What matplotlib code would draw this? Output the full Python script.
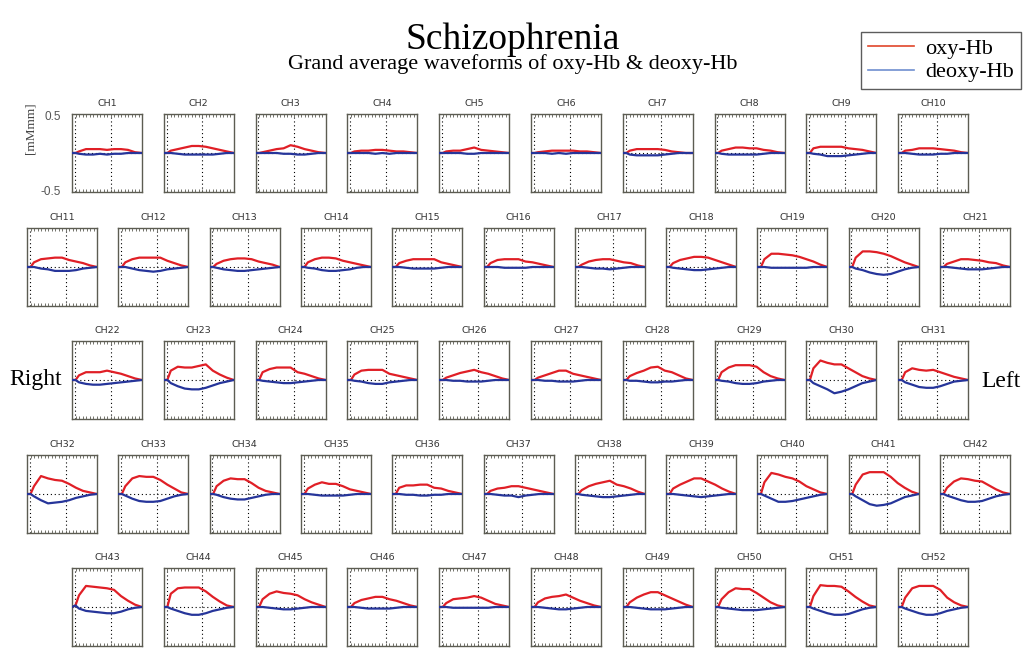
import matplotlib
matplotlib.use("Agg")
import matplotlib.pyplot as plt
from matplotlib.lines import Line2D

# sample times (s); task block runs between the two dotted markers
TIME = [0, 5, 10, 20, 30, 40, 50, 60, 70, 80, 90, 100]
TASK_ON = 4
TASK_OFF = 55

ROW_SIZES = [10, 11, 10, 11, 10]

# oxy-Hb / deoxy-Hb grand averages [mM·mm], one list per channel, grouped by probe row
oxy_row1 = [
    [0, 0, 0.02, 0.05, 0.05, 0.05, 0.04, 0.05, 0.05, 0.04, 0.01, 0],
    [0, 0, 0.03, 0.05, 0.07, 0.09, 0.09, 0.08, 0.06, 0.04, 0.02, 0],
    [0, 0, 0.01, 0.03, 0.05, 0.06, 0.10, 0.08, 0.05, 0.03, 0.01, 0],
    [0, 0, 0.02, 0.03, 0.03, 0.04, 0.04, 0.03, 0.02, 0.02, 0.01, 0],
    [0, 0, 0.02, 0.03, 0.03, 0.05, 0.07, 0.04, 0.03, 0.02, 0.01, 0],
    [0, 0, 0.01, 0.02, 0.03, 0.03, 0.03, 0.03, 0.02, 0.02, 0.01, 0],
    [0, 0, 0.03, 0.05, 0.05, 0.05, 0.05, 0.04, 0.02, 0.01, 0.00, 0],
    [0, 0, 0.03, 0.05, 0.07, 0.07, 0.06, 0.06, 0.04, 0.03, 0.01, 0],
    [0, 0, 0.06, 0.08, 0.08, 0.08, 0.08, 0.06, 0.05, 0.04, 0.02, 0],
    [0, 0, 0.03, 0.04, 0.06, 0.06, 0.06, 0.05, 0.04, 0.03, 0.01, 0],
]
deoxy_row1 = [
    [0, 0, -0.01, -0.02, -0.02, -0.01, -0.02, -0.01, -0.01, 0, 0, 0],
    [0, 0, 0.00, -0.01, -0.02, -0.02, -0.02, -0.02, -0.02, -0.01, 0, 0],
    [0, 0, 0.00, 0.00, 0.00, -0.01, -0.01, -0.02, -0.02, -0.01, 0, 0],
    [0, 0, 0.00, 0.00, 0.00, -0.01, 0.00, -0.01, 0.00, 0, 0, 0],
    [0, 0, 0.00, 0.00, 0.00, -0.01, -0.01, 0.00, 0.00, 0, 0, 0],
    [0, 0, 0.00, 0.00, -0.01, 0.00, -0.01, 0.00, 0.00, 0, 0, 0],
    [0, 0, -0.02, -0.03, -0.03, -0.03, -0.03, -0.02, -0.01, 0, 0, 0],
    [0, 0, -0.01, -0.02, -0.02, -0.02, -0.02, -0.02, -0.01, 0, 0, 0],
    [0, 0, -0.01, -0.02, -0.04, -0.04, -0.04, -0.03, -0.02, -0.01, 0, 0],
    [0, 0, 0.00, -0.01, -0.02, -0.02, -0.02, -0.01, -0.01, 0, 0, 0],
]

oxy_row2 = [
    [0, 0, 0.06, 0.10, 0.11, 0.12, 0.12, 0.09, 0.07, 0.05, 0.02, 0],
    [0, 0, 0.06, 0.10, 0.12, 0.12, 0.12, 0.12, 0.08, 0.05, 0.02, 0],
    [0, 0, 0.04, 0.08, 0.10, 0.11, 0.11, 0.10, 0.07, 0.05, 0.03, 0],
    [0, 0, 0.06, 0.10, 0.12, 0.12, 0.11, 0.08, 0.06, 0.04, 0.02, 0],
    [0, 0, 0.05, 0.08, 0.10, 0.10, 0.10, 0.10, 0.06, 0.04, 0.02, 0],
    [0, 0, 0.05, 0.09, 0.10, 0.10, 0.10, 0.07, 0.06, 0.04, 0.02, 0],
    [0, 0, 0.03, 0.07, 0.09, 0.10, 0.10, 0.08, 0.06, 0.05, 0.02, 0],
    [0, 0, 0.05, 0.09, 0.11, 0.13, 0.13, 0.12, 0.09, 0.06, 0.03, 0],
    [0, 0, 0.10, 0.17, 0.17, 0.16, 0.15, 0.13, 0.10, 0.07, 0.03, 0],
    [0, 0, 0.12, 0.20, 0.20, 0.19, 0.17, 0.14, 0.10, 0.06, 0.03, 0],
    [0, 0, 0.04, 0.07, 0.10, 0.10, 0.09, 0.08, 0.06, 0.05, 0.02, 0],
]
deoxy_row2 = [
    [0, 0, 0.00, -0.02, -0.03, -0.05, -0.05, -0.05, -0.04, -0.02, -0.01, 0],
    [0, 0, 0.00, -0.02, -0.04, -0.05, -0.06, -0.05, -0.03, -0.02, -0.01, 0],
    [0, 0, -0.01, -0.03, -0.04, -0.05, -0.05, -0.04, -0.03, -0.02, -0.01, 0],
    [0, 0, -0.01, -0.02, -0.04, -0.05, -0.05, -0.04, -0.03, -0.01, 0, 0],
    [0, 0, 0.00, -0.01, -0.02, -0.02, -0.02, -0.02, -0.01, 0, 0, 0],
    [0, 0, 0.00, 0.00, -0.01, -0.01, -0.01, -0.01, 0.00, 0, 0, 0],
    [0, 0, 0.00, -0.01, -0.02, -0.02, -0.03, -0.02, -0.01, 0, 0, 0],
    [0, 0, -0.01, -0.02, -0.03, -0.04, -0.04, -0.03, -0.02, -0.01, 0, 0],
    [0, 0, 0.00, -0.01, -0.01, -0.01, -0.01, -0.01, -0.01, 0, 0, 0],
    [0, 0, -0.02, -0.04, -0.07, -0.09, -0.10, -0.09, -0.06, -0.03, -0.01, 0],
    [0, 0, 0.00, -0.01, -0.02, -0.03, -0.03, -0.03, -0.02, -0.01, 0, 0],
]

oxy_row3 = [
    [0, 0, 0.06, 0.10, 0.10, 0.10, 0.12, 0.10, 0.08, 0.05, 0.02, 0],
    [0, 0, 0.12, 0.17, 0.16, 0.16, 0.18, 0.20, 0.12, 0.07, 0.03, 0],
    [0, 0, 0.10, 0.14, 0.16, 0.16, 0.16, 0.10, 0.08, 0.05, 0.02, 0],
    [0, 0, 0.07, 0.12, 0.13, 0.13, 0.13, 0.08, 0.06, 0.04, 0.02, 0],
    [0, 0, 0.03, 0.06, 0.09, 0.11, 0.13, 0.10, 0.08, 0.05, 0.02, 0],
    [0, 0, 0.03, 0.06, 0.09, 0.12, 0.12, 0.08, 0.06, 0.04, 0.02, 0],
    [0, 0, 0.05, 0.09, 0.12, 0.16, 0.17, 0.12, 0.10, 0.06, 0.02, 0],
    [0, 0, 0.10, 0.16, 0.19, 0.19, 0.19, 0.17, 0.10, 0.05, 0.02, 0],
    [0, 0, 0.15, 0.25, 0.22, 0.20, 0.20, 0.15, 0.10, 0.05, 0.02, 0],
    [0, 0, 0.10, 0.15, 0.13, 0.12, 0.13, 0.10, 0.07, 0.04, 0.02, 0],
]
deoxy_row3 = [
    [0, 0, -0.03, -0.05, -0.06, -0.06, -0.05, -0.04, -0.03, -0.02, -0.01, 0],
    [0, 0, -0.04, -0.08, -0.11, -0.12, -0.12, -0.10, -0.07, -0.04, -0.02, 0],
    [0, 0, -0.01, -0.02, -0.03, -0.04, -0.04, -0.03, -0.02, -0.01, 0, 0],
    [0, 0, -0.01, -0.02, -0.04, -0.05, -0.05, -0.03, -0.02, -0.01, 0, 0],
    [0, 0, 0.00, -0.01, -0.01, -0.02, -0.02, -0.02, -0.01, 0, 0, 0],
    [0, 0, 0.00, -0.01, -0.01, -0.02, -0.02, -0.02, -0.01, 0, 0, 0],
    [0, 0, -0.01, -0.01, -0.02, -0.03, -0.03, -0.02, -0.02, -0.01, 0, 0],
    [0, 0, -0.01, -0.02, -0.04, -0.05, -0.05, -0.04, -0.02, -0.01, 0, 0],
    [0, 0, -0.04, -0.08, -0.12, -0.17, -0.15, -0.12, -0.08, -0.04, -0.02, 0],
    [0, 0, -0.03, -0.06, -0.09, -0.10, -0.10, -0.08, -0.05, -0.02, -0.01, 0],
]

oxy_row4 = [
    [0, 0, 0.10, 0.23, 0.20, 0.18, 0.17, 0.13, 0.08, 0.04, 0.02, 0],
    [0, 0, 0.10, 0.20, 0.23, 0.22, 0.22, 0.18, 0.12, 0.07, 0.02, 0],
    [0, 0, 0.10, 0.17, 0.20, 0.19, 0.19, 0.14, 0.08, 0.04, 0.02, 0],
    [0, 0, 0.07, 0.12, 0.15, 0.13, 0.13, 0.10, 0.06, 0.04, 0.02, 0],
    [0, 0, 0.08, 0.11, 0.11, 0.12, 0.12, 0.08, 0.07, 0.04, 0.02, 0],
    [0, 0, 0.04, 0.07, 0.08, 0.10, 0.10, 0.08, 0.06, 0.04, 0.02, 0],
    [0, 0, 0.05, 0.10, 0.13, 0.15, 0.17, 0.12, 0.10, 0.07, 0.03, 0],
    [0, 0, 0.07, 0.12, 0.16, 0.20, 0.20, 0.16, 0.12, 0.07, 0.03, 0],
    [0, 0, 0.15, 0.27, 0.25, 0.22, 0.20, 0.16, 0.10, 0.06, 0.02, 0],
    [0, 0, 0.12, 0.25, 0.28, 0.28, 0.28, 0.22, 0.14, 0.08, 0.03, 0],
    [0, 0, 0.08, 0.16, 0.20, 0.19, 0.17, 0.16, 0.11, 0.06, 0.02, 0],
]
deoxy_row4 = [
    [0, 0, -0.03, -0.08, -0.12, -0.11, -0.10, -0.08, -0.05, -0.03, -0.01, 0],
    [0, 0, -0.02, -0.06, -0.09, -0.10, -0.10, -0.09, -0.06, -0.03, -0.01, 0],
    [0, 0, -0.01, -0.04, -0.06, -0.07, -0.07, -0.05, -0.03, -0.01, 0, 0],
    [0, 0, 0.00, -0.01, -0.02, -0.02, -0.02, -0.02, -0.01, 0, 0, 0],
    [0, 0, 0.00, -0.01, -0.01, -0.02, -0.02, -0.01, -0.01, 0, 0, 0],
    [0, 0, 0.00, -0.01, -0.02, -0.02, -0.04, -0.02, -0.01, 0, 0, 0],
    [0, 0, -0.01, -0.02, -0.03, -0.04, -0.04, -0.03, -0.02, -0.01, 0, 0],
    [0, 0, 0.00, -0.01, -0.02, -0.03, -0.04, -0.03, -0.02, -0.01, 0, 0],
    [0, 0, -0.02, -0.06, -0.10, -0.10, -0.09, -0.07, -0.05, -0.03, -0.01, 0],
    [0, 0, -0.03, -0.08, -0.13, -0.15, -0.14, -0.12, -0.08, -0.04, -0.02, 0],
    [0, 0, -0.02, -0.05, -0.08, -0.10, -0.10, -0.09, -0.06, -0.03, -0.01, 0],
]

oxy_row5 = [
    [0, 0.02, 0.15, 0.27, 0.26, 0.25, 0.24, 0.22, 0.14, 0.08, 0.03, 0],
    [0, 0, 0.17, 0.24, 0.25, 0.25, 0.25, 0.20, 0.13, 0.07, 0.02, 0],
    [0, 0, 0.10, 0.17, 0.20, 0.18, 0.17, 0.15, 0.10, 0.06, 0.03, 0],
    [0, 0, 0.05, 0.09, 0.11, 0.13, 0.13, 0.10, 0.08, 0.05, 0.02, 0],
    [0, 0, 0.05, 0.10, 0.11, 0.12, 0.14, 0.12, 0.08, 0.04, 0.02, 0],
    [0, 0, 0.06, 0.11, 0.13, 0.14, 0.16, 0.12, 0.08, 0.05, 0.02, 0],
    [0, 0, 0.06, 0.12, 0.16, 0.19, 0.19, 0.15, 0.11, 0.07, 0.03, 0],
    [0, 0, 0.10, 0.19, 0.24, 0.23, 0.23, 0.18, 0.12, 0.06, 0.02, 0],
    [0, 0, 0.14, 0.28, 0.27, 0.27, 0.26, 0.20, 0.13, 0.07, 0.02, 0],
    [0, 0, 0.12, 0.24, 0.27, 0.27, 0.27, 0.22, 0.12, 0.06, 0.02, 0],
]
deoxy_row5 = [
    [0, 0.02, -0.02, -0.05, -0.06, -0.07, -0.08, -0.08, -0.06, -0.03, -0.01, 0],
    [0, 0, -0.02, -0.05, -0.08, -0.10, -0.10, -0.08, -0.05, -0.03, -0.01, 0],
    [0, 0, 0.00, -0.01, -0.02, -0.03, -0.03, -0.02, -0.01, 0, 0, 0],
    [0, 0, 0.00, -0.01, -0.02, -0.02, -0.02, -0.02, -0.01, 0, 0, 0],
    [0, 0, 0.00, -0.01, -0.01, -0.01, -0.01, -0.01, -0.01, 0, 0, 0],
    [0, 0, 0.00, -0.01, -0.02, -0.03, -0.03, -0.02, -0.01, 0, 0, 0],
    [0, 0, 0.00, -0.01, -0.02, -0.03, -0.03, -0.03, -0.02, -0.01, 0, 0],
    [0, 0, -0.01, -0.02, -0.03, -0.04, -0.04, -0.04, -0.03, -0.02, -0.01, 0],
    [0, 0, -0.02, -0.05, -0.08, -0.10, -0.10, -0.09, -0.06, -0.03, -0.01, 0],
    [0, 0, -0.02, -0.05, -0.08, -0.10, -0.10, -0.08, -0.05, -0.03, -0.01, 0],
]

OXY_ROWS = [oxy_row1, oxy_row2, oxy_row3, oxy_row4, oxy_row5]
DEOXY_ROWS = [deoxy_row1, deoxy_row2, deoxy_row3, deoxy_row4, deoxy_row5]

OXY_COLOR = "#e01f26"
DEOXY_COLOR = "#26359a"
FRAME_COLOR = "#5c5c52"

# panel grid in pixels
W, H = 1026, 649
ROW_TOPS = [114, 228, 341, 455, 568]
PANEL_W, PANEL_H = 70, 78
LEFT_SHORT, STEP_SHORT = 72, 91.8   # rows with 10 channels
LEFT_LONG, STEP_LONG = 27, 91.3     # rows with 11 channels

plt.rcParams["font.family"] = ["Liberation Serif", "DejaVu Serif"]

fig = plt.figure(figsize=(W / 100, H / 100), dpi=100)
fig.patch.set_facecolor("white")


def draw_panel(ax, label, oxy, deoxy):
    ax.axvline(TASK_ON, color="black", lw=0.8, ls=(0, (1, 2.5)), zorder=1)
    ax.axvline(TASK_OFF, color="black", lw=0.8, ls=(0, (1, 2.5)), zorder=1)
    ax.axhline(0, color="black", lw=0.8, ls=(0, (1, 2.5)), zorder=1)
    ax.plot(TIME, oxy, color=OXY_COLOR, lw=1.6, zorder=2)
    ax.plot(TIME, deoxy, color=DEOXY_COLOR, lw=1.6, zorder=3)
    ax.set_xlim(0, 100)
    ax.set_ylim(-0.5, 0.5)
    ax.set_xticks(range(0, 101, 5))
    ax.set_yticks([])
    ax.tick_params(axis="x", direction="in", top=True, bottom=True, length=2,
                   width=0.6, color=FRAME_COLOR, labelbottom=False)
    for sp in ax.spines.values():
        sp.set_color(FRAME_COLOR)
        sp.set_linewidth(1.0)
    ax.set_title(label, fontsize=6.8, family="DejaVu Sans", color="#333333", pad=6)


ch = 1
for r, n in enumerate(ROW_SIZES):
    left0, step = (LEFT_SHORT, STEP_SHORT) if n == 10 else (LEFT_LONG, STEP_LONG)
    top = ROW_TOPS[r]
    for i in range(n):
        x0 = left0 + i * step
        ax = fig.add_axes([x0 / W, 1 - (top + PANEL_H) / H, PANEL_W / W, PANEL_H / H])
        draw_panel(ax, f"CH{ch}", OXY_ROWS[r][i], DEOXY_ROWS[r][i])
        ch += 1

# scale labels next to the first panel
fig.text(61 / W, 1 - 117 / H, "0.5", ha="right", va="center", fontsize=8.5,
         family="Liberation Sans", color="#555555")
fig.text(61 / W, 1 - 192 / H, "-0.5", ha="right", va="center", fontsize=8.5,
         family="Liberation Sans", color="#555555")
fig.text(31 / W, 1 - 128 / H, "[mMmm]", rotation=90, ha="center", va="center",
         fontsize=9.5, color="#444444")

fig.text(513 / W, 1 - 40 / H, "Schizophrenia", ha="center", va="center", fontsize=27)
fig.text(513 / W, 1 - 64 / H, "Grand average waveforms of oxy-Hb & deoxy-Hb",
         ha="center", va="center", fontsize=16)

fig.text(36 / W, 1 - 380 / H, "Right", ha="center", va="center", fontsize=17)
fig.text(1001 / W, 1 - 381 / H, "Left", ha="center", va="center", fontsize=17)

handles = [Line2D([], [], color="#e0452a", lw=1.2),
           Line2D([], [], color="#6f8fd0", lw=1.2)]
leg = fig.legend(handles, ["oxy-Hb", "deoxy-Hb"], loc="upper right",
                 bbox_to_anchor=(1021 / W, 1 - 32 / H), frameon=True, fancybox=False,
                 fontsize=16, handlelength=2.1, handletextpad=0.5,
                 borderpad=0.3, labelspacing=0.12, borderaxespad=0)
leg.get_frame().set_edgecolor("#333333")
leg.get_frame().set_linewidth(1.0)

fig.savefig("out.png", dpi=100, facecolor="white")
